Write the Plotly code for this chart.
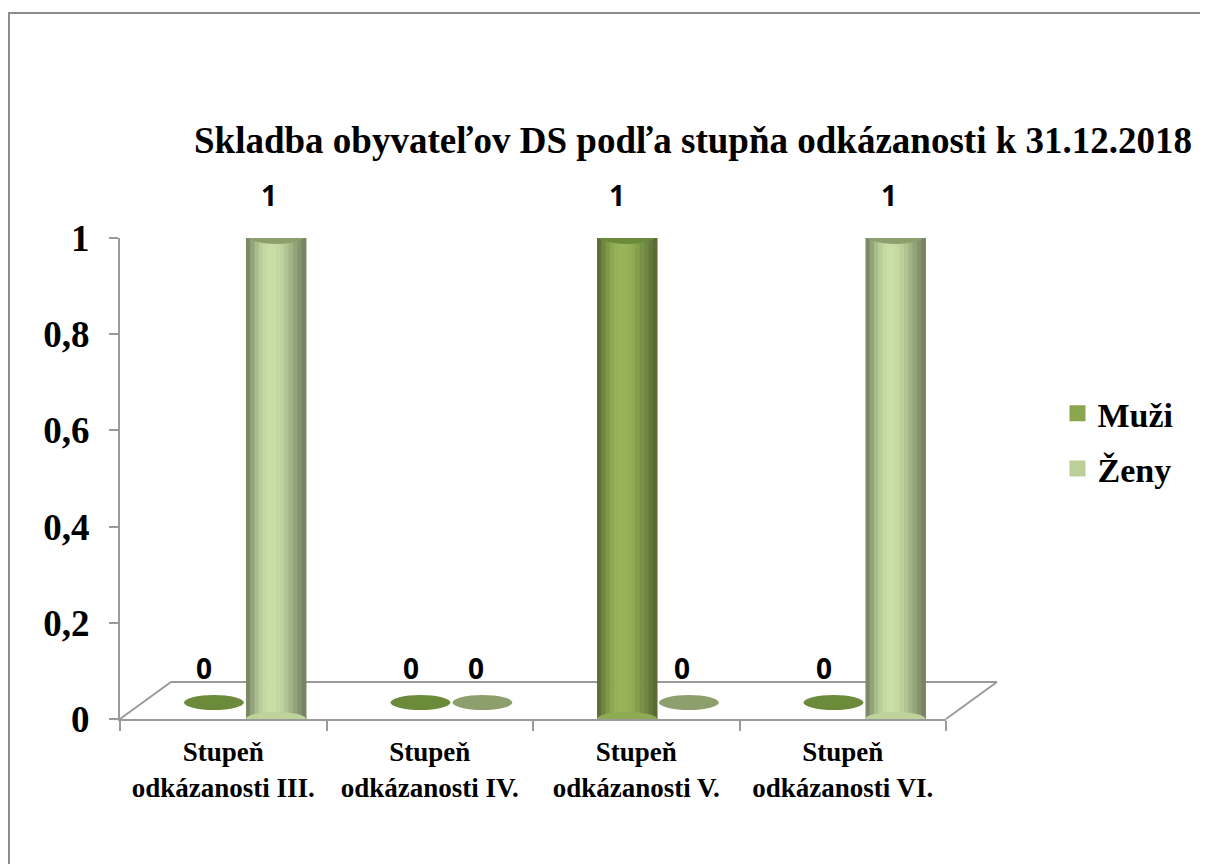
import plotly.graph_objects as go

categories = ["Stupeň<br>odkázanosti III.", "Stupeň<br>odkázanosti IV.",
              "Stupeň<br>odkázanosti V.", "Stupeň<br>odkázanosti VI."]
muzi = [0, 0, 1, 0]
zeny = [1, 0, 0, 1]

# cylinder look: each bar drawn as thin vertical stripes with a shading profile
shade = [0.62, 0.74, 0.85, 0.93, 0.98, 1.0, 1.0, 0.98, 0.94, 0.88, 0.81, 0.74, 0.67, 0.6]


def mix(rgb, f):
    return "rgb(%d,%d,%d)" % tuple(int(c * f) for c in rgb)


# name, values, body colour, bar start offset, legend colour, cap colour, label shift
series = [
    ("Muži", muzi, (150, 180, 88), -0.19, "#8aa64e", "#6b8a3a", -19),
    ("Ženy", zeny, (200, 222, 165), 0.11, "#bccf98", "#8c9f6d", 46),
]

fig = go.Figure()
n = len(shade)
bw = 0.29
for name, vals, rgb, start, legcol, capcol, xs in series:
    for i, f in enumerate(shade):
        fig.add_trace(go.Bar(
            x=categories, y=vals, name=name,
            offset=start + i * bw / n, width=bw / n + 0.003,
            marker=dict(color=mix(rgb, f), line=dict(width=0)),
            showlegend=False, hoverinfo="skip",
        ))
    # legend entry only
    fig.add_trace(go.Scatter(x=[categories[0]], y=[None], name=name, mode="markers",
                             legendgroup=name,
                             marker=dict(color=legcol, symbol="square", size=18)))

    for k, v in enumerate(vals):
        if v == 0:
            # flat disc lying on the floor
            fig.add_shape(type="circle", xref="x", yref="y", ysizemode="pixel", yanchor=v,
                          x0=k + start, x1=k + start + bw, y0=9, y1=24,
                          fillcolor=capcol, line=dict(width=0), layer="above")
        else:
            # rounded bottom and top cap of the cylinder
            fig.add_shape(type="circle", xref="x", yref="y", ysizemode="pixel", yanchor=0,
                          x0=k + start, x1=k + start + bw, y0=-7, y1=7,
                          fillcolor=mix(rgb, 0.95), line=dict(width=0), layer="above")
            fig.add_shape(type="circle", xref="x", yref="y", ysizemode="pixel", yanchor=v,
                          x0=k + start, x1=k + start + bw, y0=-6, y1=12,
                          fillcolor=capcol, line=dict(width=0), layer="above")
        fig.add_annotation(x=categories[k], y=v, text=str(v), showarrow=False,
                           xshift=xs, yshift=51 - 8 * v,
                           font=dict(family="Open Sans", size=28, color="black", weight="bold"))

serif = "Liberation Serif"

fig.add_annotation(text="<b>Skladba obyvateľov DS podľa stupňa odkázanosti k 31.12.2018</b>",
                   xref="paper", yref="paper", x=0.6937, y=1.2037, showarrow=False,
                   xanchor="center", yanchor="middle",
                   font=dict(family=serif, size=37, color="black"))

# 3D floor outline
gray = "#9a9a9a"
dx, dy = 0.0617, 0.077
for x0, y0, x1, y1 in [(0, 0, dx, dy), (dx, dy, 1 + dx, dy), (1, 0, 1 + dx, dy)]:
    fig.add_shape(type="line", xref="paper", yref="paper", x0=x0, y0=y0, x1=x1, y1=y1,
                  line=dict(color=gray, width=2), layer="below")

# outer chart border
fig.add_shape(type="rect", xref="paper", yref="paper", x0=-0.1344, y0=1.4678, x1=1.5, y1=-0.5,
              line=dict(color="#8c8c8c", width=2), fillcolor="rgba(0,0,0,0)")

fig.update_layout(
    width=1200, height=856,
    barmode="overlay",
    separators=", ",
    paper_bgcolor="white", plot_bgcolor="white",
    margin=dict(l=112, r=262, t=230, b=145),
    legend=dict(x=1.135, y=0.695, xanchor="left", yanchor="top",
                font=dict(family=serif, size=34, color="black", weight="bold"),
                itemsizing="trace", tracegroupgap=8),
    xaxis=dict(showline=True, linecolor=gray, linewidth=2, ticks="outside",
               tickcolor=gray, ticklen=10, tickwidth=2, tickson="boundaries",
               ticklabelstandoff=8,
               tickfont=dict(family=serif, size=27, color="black", weight="bold"),
               showgrid=False, range=[-0.5, 3.5]),
    yaxis=dict(range=[0, 1], tickvals=[0, 0.2, 0.4, 0.6, 0.8, 1], showline=True,
               linecolor=gray, linewidth=2, ticks="outside", tickcolor=gray, ticklen=9,
               tickwidth=2, showgrid=False, zeroline=False, ticklabelstandoff=12,
               tickfont=dict(family=serif, size=37, color="black", weight="bold")),
)

fig.write_html("out.html")
